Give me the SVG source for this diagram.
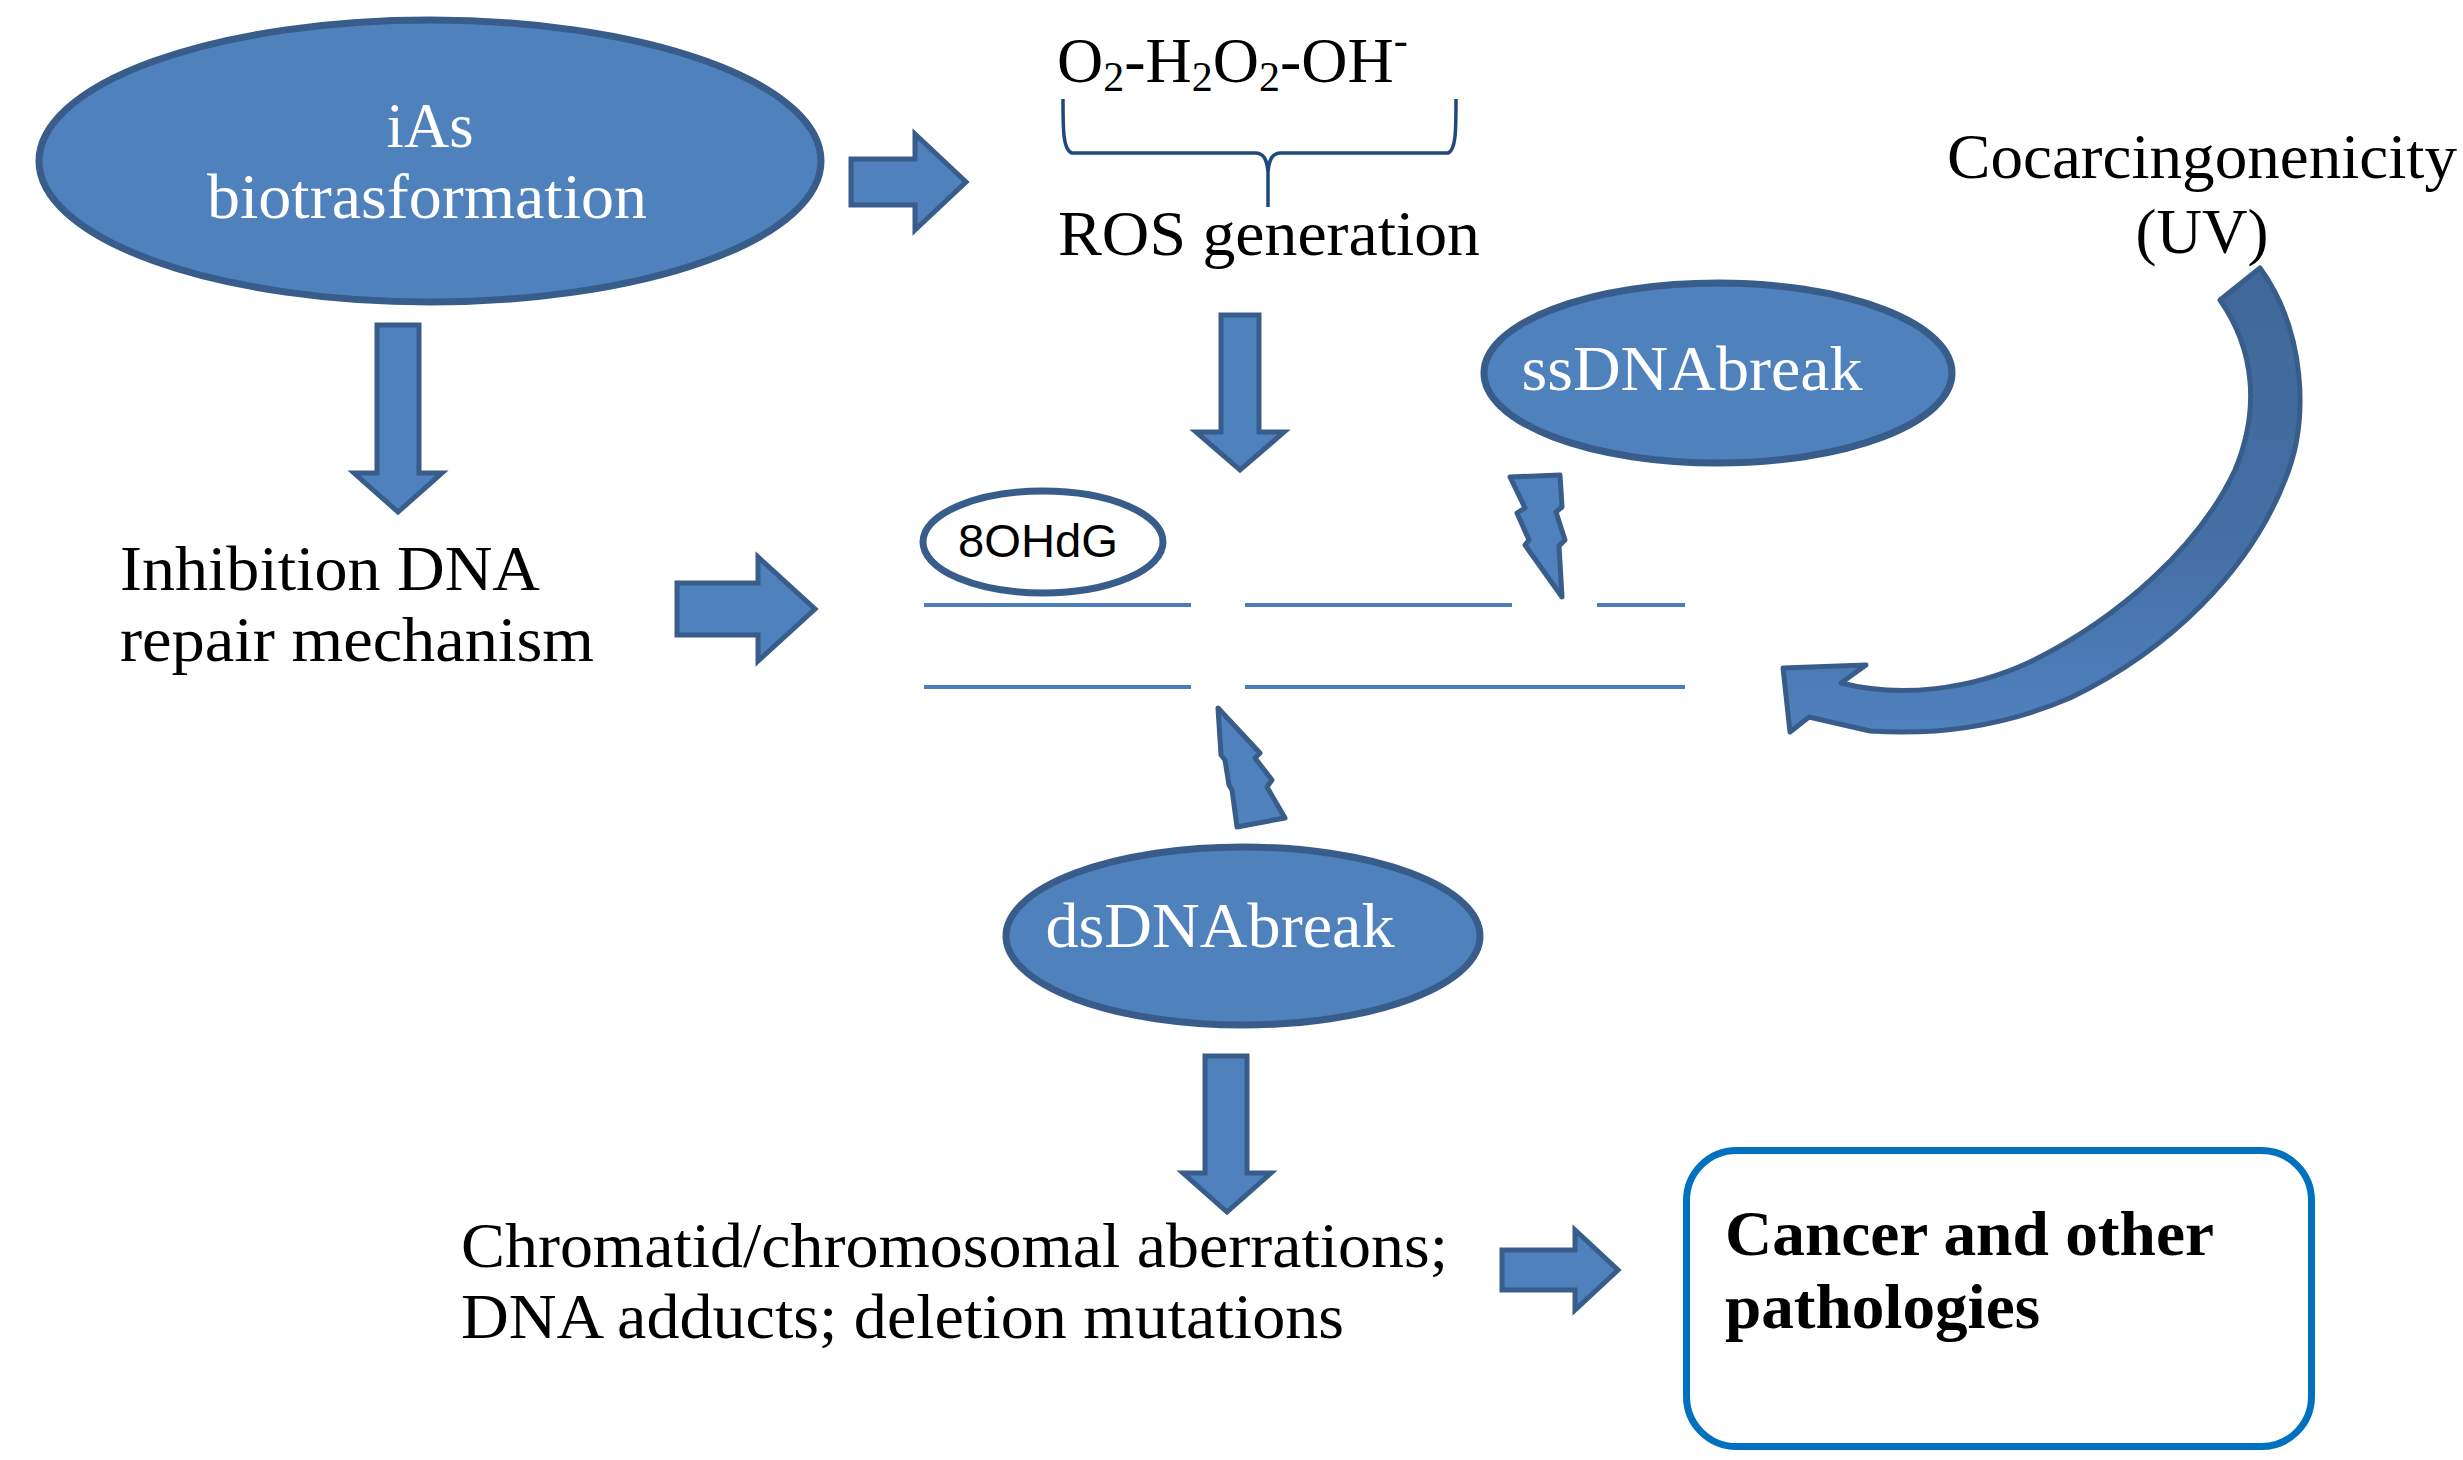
<svg xmlns="http://www.w3.org/2000/svg" width="2463" height="1460" viewBox="0 0 2463 1460">
<style>
.blob{fill:#4F81BD;stroke:#385D8A;stroke-width:7}
.arr{fill:#4F81BD;stroke:#385D8A;stroke-width:5;stroke-linejoin:miter}
.bolt{fill:#4F81BD;stroke:#385D8A;stroke-width:5;stroke-linejoin:round}
.strand{stroke:#4A7EBB;stroke-width:4;fill:none}
.t{font-family:"Liberation Serif","Times New Roman",serif;font-size:64px;fill:#000}
.w{fill:#fff}
.b{font-weight:bold}
.s{font-family:"Liberation Sans",Arial,sans-serif;font-size:46px;fill:#000}
</style>
<defs>
<linearGradient id="cg" x1="0" y1="0" x2="0" y2="1">
<stop offset="0" stop-color="#3F6799"/>
<stop offset="0.6" stop-color="#4570A6"/>
<stop offset="1" stop-color="#4F81BD"/>
</linearGradient>
</defs>
<rect width="2463" height="1460" fill="#fff"/>

<g id="connectors">
<path class="arr" d="M851,159 H915 V134 L966,182 L915,230 V205 H851 Z"/>
<path class="arr" d="M377,325 H419 V473 H442 L398,512 L354,473 H377 Z"/>
<path class="arr" d="M1221,315 H1259 V432 H1284 L1240,470 L1196,432 H1221 Z"/>
<path class="arr" d="M677,583 H758 V557 L815,609 L758,661 V635 H677 Z"/>
<path class="arr" d="M1205,1056 H1247 V1173 H1271 L1227,1212 L1183,1173 H1205 Z"/>
<path class="arr" d="M1502,1250 H1575 V1230 L1618,1270 L1575,1310 V1290 H1502 Z"/>
<path d="M2220,300 L2260,268 C2305,330 2310,420 2285,480 C2250,570 2170,650 2070,698 C2000,728 1930,735 1870,731 L1809,717 L1790,732 L1783,668 L1866,665 L1841,683 C1900,698 1970,690 2030,662 C2120,618 2200,545 2235,470 C2260,410 2255,350 2220,300 Z" fill="url(#cg)" stroke="#385D8A" stroke-width="5" stroke-linejoin="round"/>
<path d="M1063,99 C1063,130 1063,150 1072,153 L1255,153 C1264,153 1267,160 1268,172 L1268,207 M1268,172 C1269,160 1272,153 1281,153 L1448,153 C1456,150 1456,130 1456,99" fill="none" stroke="#1F497D" stroke-width="3.5"/>
</g>

<g id="iAs">
<ellipse class="blob" cx="430" cy="161" rx="391" ry="141"/>
<text class="t w" x="430" y="147" text-anchor="middle" textLength="87" lengthAdjust="spacingAndGlyphs">iAs</text>
<text class="t w" x="427" y="218" text-anchor="middle" textLength="440" lengthAdjust="spacingAndGlyphs">biotrasformation</text>
</g>

<g id="ros-species">
<text class="t" x="1057" y="82">O<tspan font-size="42" dy="9">2</tspan><tspan dy="-9">-H</tspan><tspan font-size="42" dy="9">2</tspan><tspan dy="-9">O</tspan><tspan font-size="42" dy="9">2</tspan><tspan dy="-9">-OH</tspan><tspan font-size="42" dy="-28">-</tspan></text>
</g>

<g id="ros">
<text class="t" x="1058" y="255" textLength="422" lengthAdjust="spacingAndGlyphs">ROS generation</text>
</g>

<g id="cocarc">
<text class="t" x="2202" y="178" text-anchor="middle" textLength="510" lengthAdjust="spacingAndGlyphs">Cocarcingonenicity</text>
<text class="t" x="2202" y="253" text-anchor="middle" textLength="133" lengthAdjust="spacingAndGlyphs">(UV)</text>
</g>

<g id="ssDNA">
<ellipse class="blob" cx="1718" cy="373" rx="234" ry="90"/>
<text class="t w" x="1692" y="390" text-anchor="middle" textLength="341" lengthAdjust="spacingAndGlyphs">ssDNAbreak</text>
</g>

<g id="inhibition">
<text class="t" x="120" y="590" textLength="420" lengthAdjust="spacingAndGlyphs">Inhibition DNA</text>
<text class="t" x="120" y="661" textLength="474" lengthAdjust="spacingAndGlyphs">repair mechanism</text>
</g>

<g id="dna">
<line class="strand" x1="924" y1="605" x2="1191" y2="605"/>
<line class="strand" x1="1245" y1="605" x2="1512" y2="605"/>
<line class="strand" x1="1597" y1="605" x2="1685" y2="605"/>
<line class="strand" x1="924" y1="687" x2="1191" y2="687"/>
<line class="strand" x1="1245" y1="687" x2="1685" y2="687"/>
<path class="bolt" d="M1510,477 L1560,475 L1562,507 L1556,512 L1565,540 L1559,546 L1562,597 L1525,545 L1529,540 L1517,513 L1525,508 Z"/>
<path class="bolt" d="M1218,708 L1260,753 L1255,758 L1272,780 L1267,787 L1285,818 L1237,827 L1232,790 L1229,785 L1225,760 L1221,755 Z"/>
</g>

<g id="ohdg">
<ellipse cx="1043" cy="542" rx="120" ry="51" fill="#fff" stroke="#385D8A" stroke-width="7"/>
<text class="s" x="1038" y="557" text-anchor="middle" textLength="160" lengthAdjust="spacingAndGlyphs">8OHdG</text>
</g>

<g id="dsDNA">
<ellipse class="blob" cx="1243" cy="936" rx="237" ry="89"/>
<text class="t w" x="1220" y="947" text-anchor="middle" textLength="349" lengthAdjust="spacingAndGlyphs">dsDNAbreak</text>
</g>

<g id="aberrations">
<text class="t" x="461" y="1267" textLength="987" lengthAdjust="spacingAndGlyphs">Chromatid/chromosomal aberrations;</text>
<text class="t" x="461" y="1338" textLength="883" lengthAdjust="spacingAndGlyphs">DNA adducts; deletion mutations</text>
</g>

<g id="cancer">
<rect x="1686.5" y="1150.5" width="625" height="296" rx="50" ry="50" fill="#fff" stroke="#0070C0" stroke-width="7"/>
<text class="t b" x="1725" y="1255" textLength="489" lengthAdjust="spacingAndGlyphs">Cancer and other</text>
<text class="t b" x="1725" y="1328" textLength="315" lengthAdjust="spacingAndGlyphs">pathologies</text>
</g>
</svg>
